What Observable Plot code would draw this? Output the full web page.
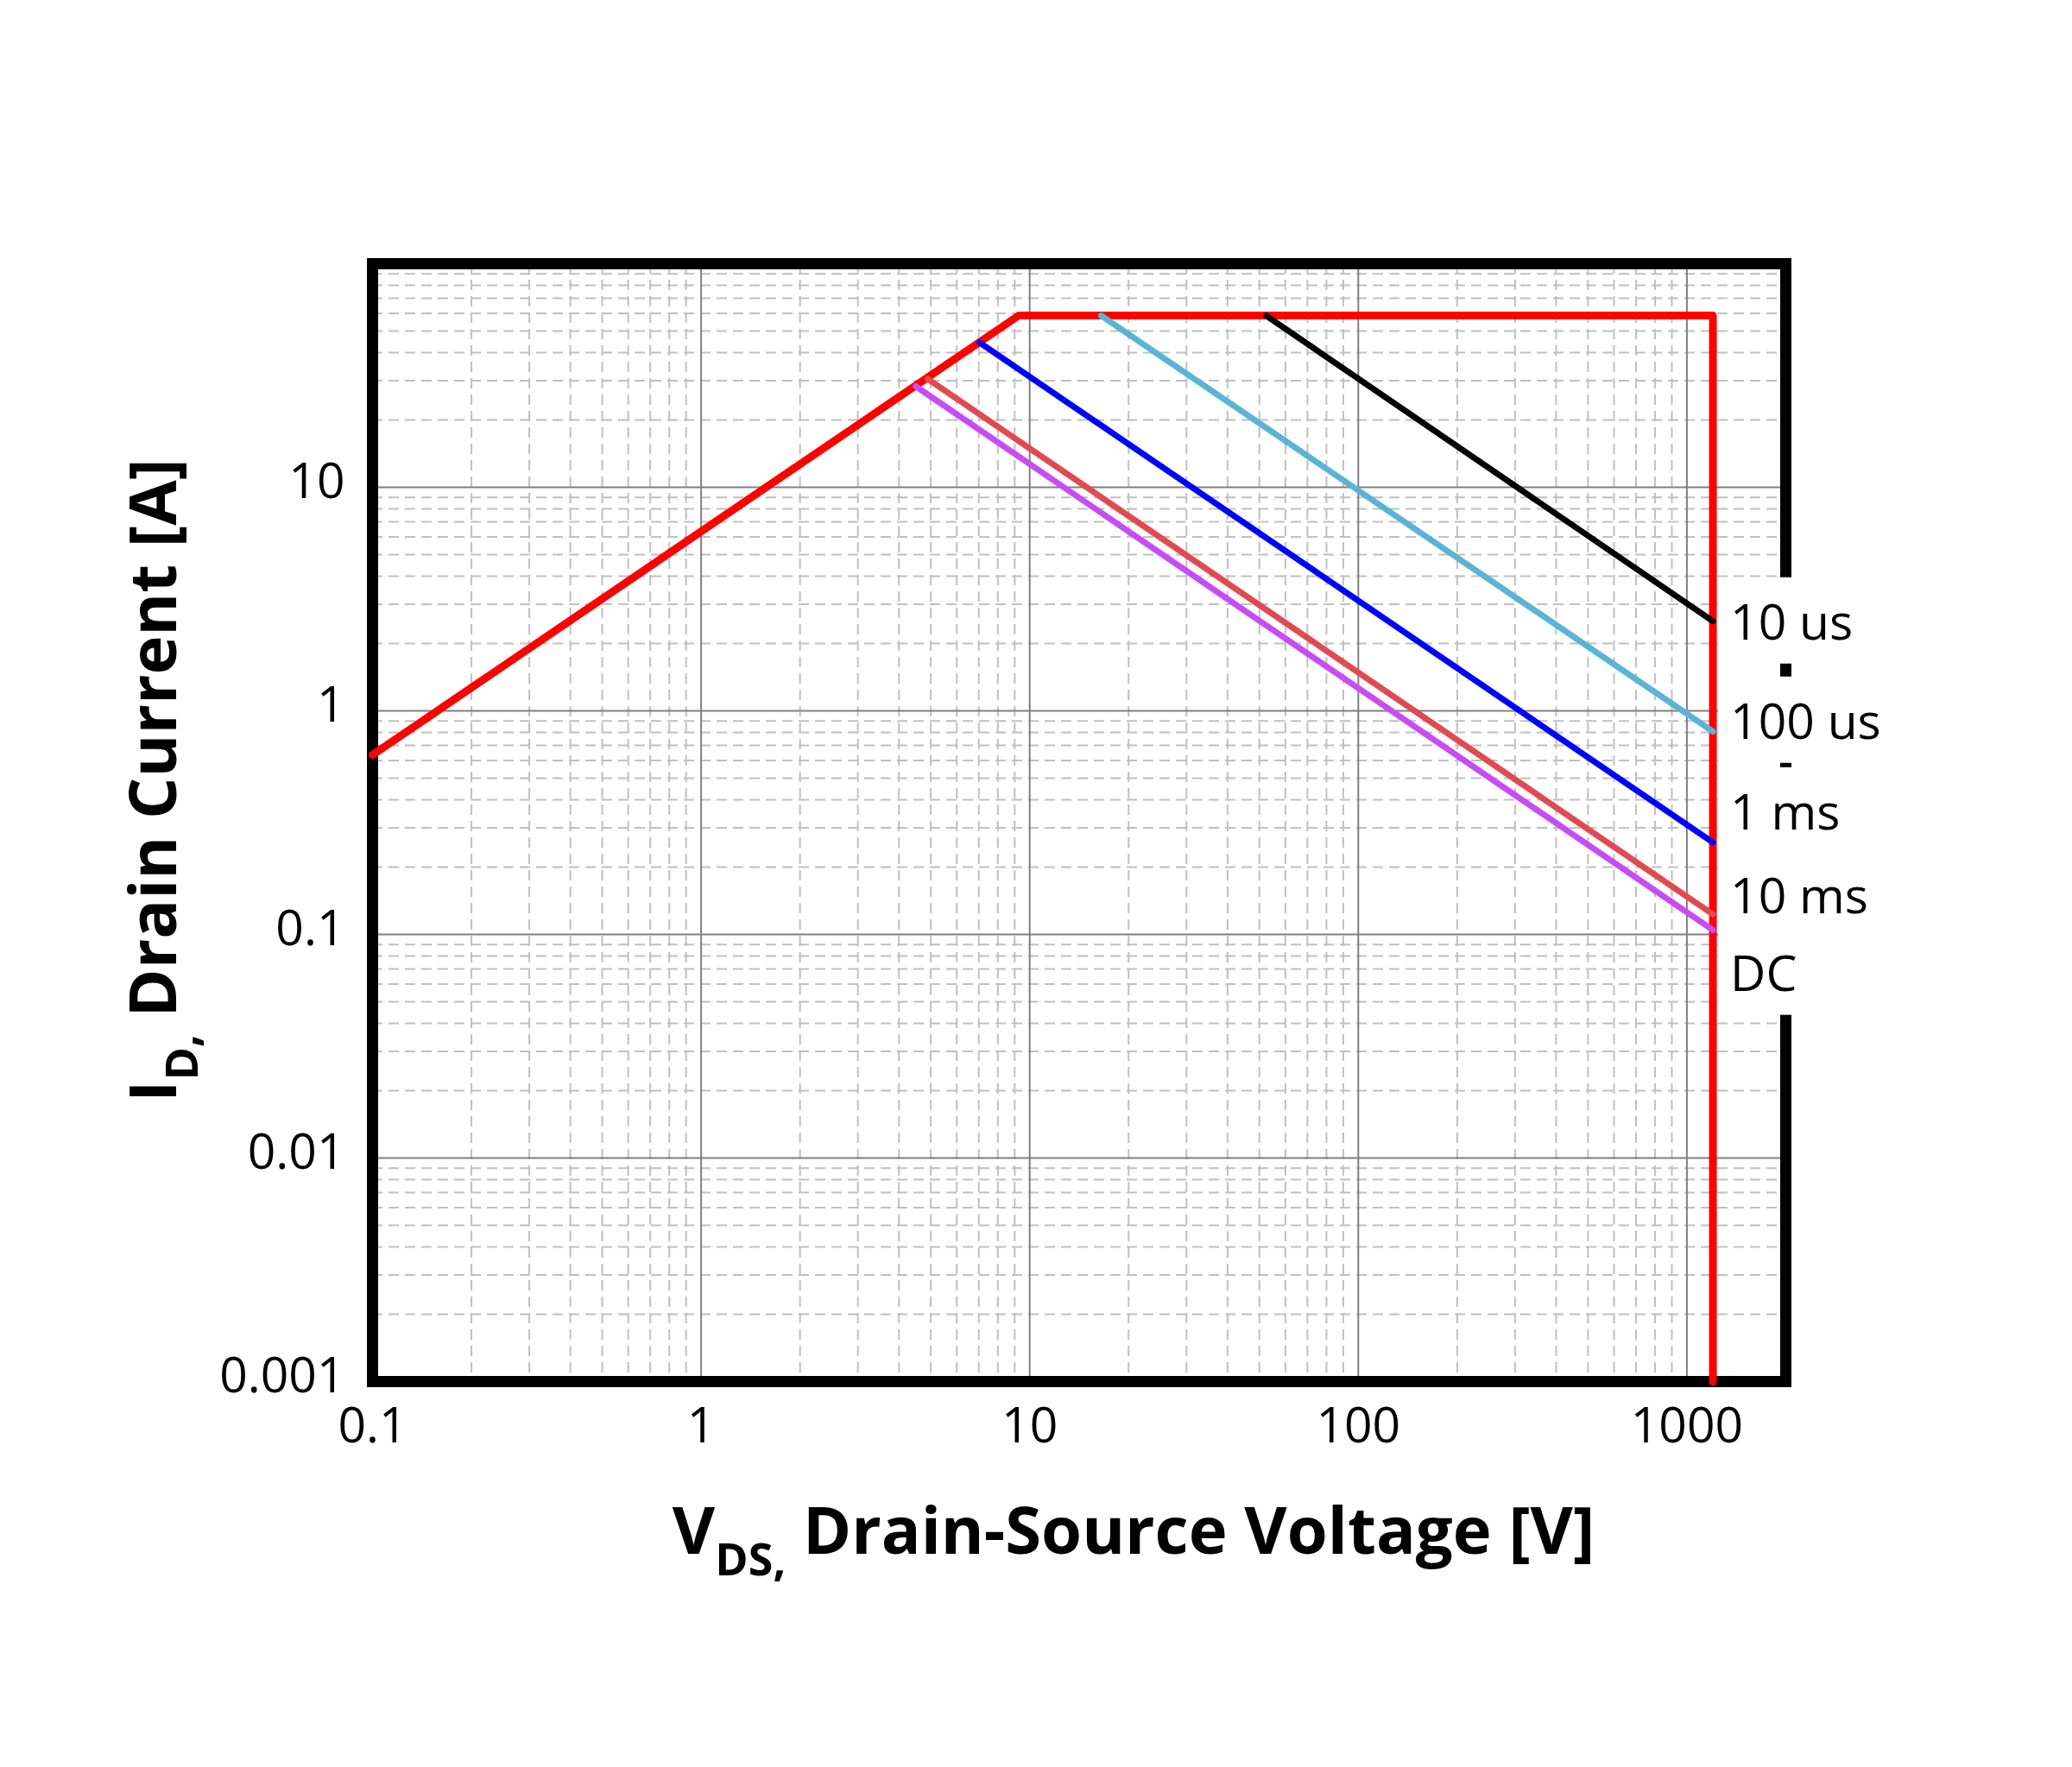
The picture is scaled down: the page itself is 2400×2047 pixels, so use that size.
<!DOCTYPE html>
<html>
<head>
<meta charset="utf-8">
<script src="https://cdn.jsdelivr.net/npm/d3@7"></script>
<script src="https://cdn.jsdelivr.net/npm/@observablehq/plot@0.6"></script>
<style>
  html, body { margin: 0; padding: 0; background: #fff; }
  #chart svg { display: block; }
</style>
</head>
<body>
<div id="chart"></div>
<script>
// ---- data ----
const boundaryV = [0.1, 9.25, 1200, 1200];
const boundaryI = [0.635, 58.6, 58.6, 0.001];

const seriesNames  = ["10 us", "100 us", "1 ms", "10 ms", "DC"];
const seriesColors = ["#000000", "#5ab4d6", "#0000ff", "#e04a52", "#c84cf5"];
const startV = [52.4, 16.5, 7.04, 4.90, 4.50];
const startI = [58.6, 58.6, 44.4, 30.5, 28.3];
const endV   = [1200, 1200, 1200, 1200, 1200];
const endI   = [2.52, 0.808, 0.258, 0.123, 0.1046];
const labelI = [2.455, 0.883, 0.347, 0.1466, 0.0659];

const xTicks = [0.1, 1, 10, 100, 1000];
const yTicks = [0.001, 0.01, 0.1, 1, 10];
const xMajorGrid = [1, 10, 100, 1000];
const yMajorGrid = [0.01, 0.1, 1, 10];
const minorMult = [2, 3, 4, 5, 6, 7, 8, 9];
const xDecades = [0.1, 1, 10, 100];
const yDecades = [0.001, 0.01, 0.1, 1, 10];

// ---- derived tables ----
const boundaryRows = boundaryV.map((v, k) => ({v, i: boundaryI[k]}));
const pulseRows = seriesNames.flatMap((s, k) => [
  {series: s, v: startV[k], i: startI[k]},
  {series: s, v: endV[k], i: endI[k]}
]);
const labelRows = seriesNames.map((s, k) => ({label: s, v: endV[k], i: labelI[k]}));
const xMinor = xDecades.flatMap(d => minorMult.map(m => d * m));
const yMinor = yDecades.flatMap(d => minorMult.map(m => d * m));

const FONT = "'Open Sans', 'Noto Sans', sans-serif";

const chart = Plot.plot({
  width: 2400,
  height: 2047,
  marginLeft: 431,
  marginRight: 332,
  marginTop: 305,
  marginBottom: 447,
  style: {fontFamily: FONT, background: "#fff", color: "#000"},
  x: {type: "log", domain: [0.1, 2000]},
  y: {type: "log", domain: [0.001, 100]},
  color: {domain: seriesNames, range: seriesColors},
  marks: [
    Plot.gridX({ticks: xMinor, stroke: "#c0c0c0", strokeOpacity: 1, strokeWidth: 2, strokeDasharray: "12,7"}),
    Plot.gridY({ticks: yMinor, stroke: "#c0c0c0", strokeOpacity: 1, strokeWidth: 2, strokeDasharray: "12,7"}),
    Plot.gridX({ticks: xMajorGrid, stroke: "#808080", strokeOpacity: 1, strokeWidth: 2}),
    Plot.gridY({ticks: yMajorGrid, stroke: "#808080", strokeOpacity: 1, strokeWidth: 2}),
    Plot.axisX({ticks: xTicks, tickFormat: d => String(d), tickSize: 0, tickPadding: 30, fontSize: 57, label: null}),
    Plot.axisY({ticks: yTicks, tickFormat: d => String(d), tickSize: 0, tickPadding: 32, fontSize: 57, dy: -6, label: null}),
    Plot.frame({stroke: "#000", strokeWidth: 13}),
    Plot.line(boundaryRows, {x: "v", y: "i", stroke: "#ff0000", strokeWidth: 9, strokeLinejoin: "round"}),
    Plot.line(pulseRows, {x: "v", y: "i", z: "series", stroke: "series", strokeWidth: 7, strokeLinecap: "round"}),
    Plot.text(labelRows, {x: "v", y: "i", text: "label", textAnchor: "start", dx: 20, fontSize: 57, fill: "#000"})
  ]
});

document.getElementById("chart").append(chart);

const svg = d3.select(chart);

// white boxes behind the duration labels (the only plain text mark)
svg.selectAll("g[aria-label='text'] text").each(function () {
  const b = this.getBBox();
  const t = this.getAttribute("transform");
  const r = d3.select(this.parentNode).insert("rect", () => this)
    .attr("x", b.x - 14).attr("y", b.y - 11)
    .attr("width", b.width + 28).attr("height", b.height + 22)
    .attr("fill", "#fff").attr("stroke", "none");
  if (t) r.attr("transform", t);
});

// axis titles with subscripts
const xt = svg.append("text")
  .attr("x", 1313).attr("y", 1800)
  .attr("text-anchor", "middle")
  .attr("font-family", FONT)
  .attr("font-weight", "bold").attr("font-size", 76)
  .attr("fill", "#000").style("white-space", "pre");
xt.append("tspan").text("V");
xt.append("tspan").attr("font-size", 52).attr("dy", 25).text("DS,");
xt.append("tspan").attr("dy", -25).text(" Drain-Source Voltage [V]");

const yg = svg.append("g").attr("transform", "translate(204,904) rotate(-90)");
const yt = yg.append("text")
  .attr("x", 0).attr("y", 0)
  .attr("text-anchor", "middle")
  .attr("font-family", FONT)
  .attr("font-weight", "bold").attr("font-size", 76)
  .attr("fill", "#000").style("white-space", "pre");
yt.append("tspan").text("I");
yt.append("tspan").attr("font-size", 52).attr("dy", 25).text("D,");
yt.append("tspan").attr("dy", -25).text(" Drain Current [A]");
</script>
</body>
</html>
